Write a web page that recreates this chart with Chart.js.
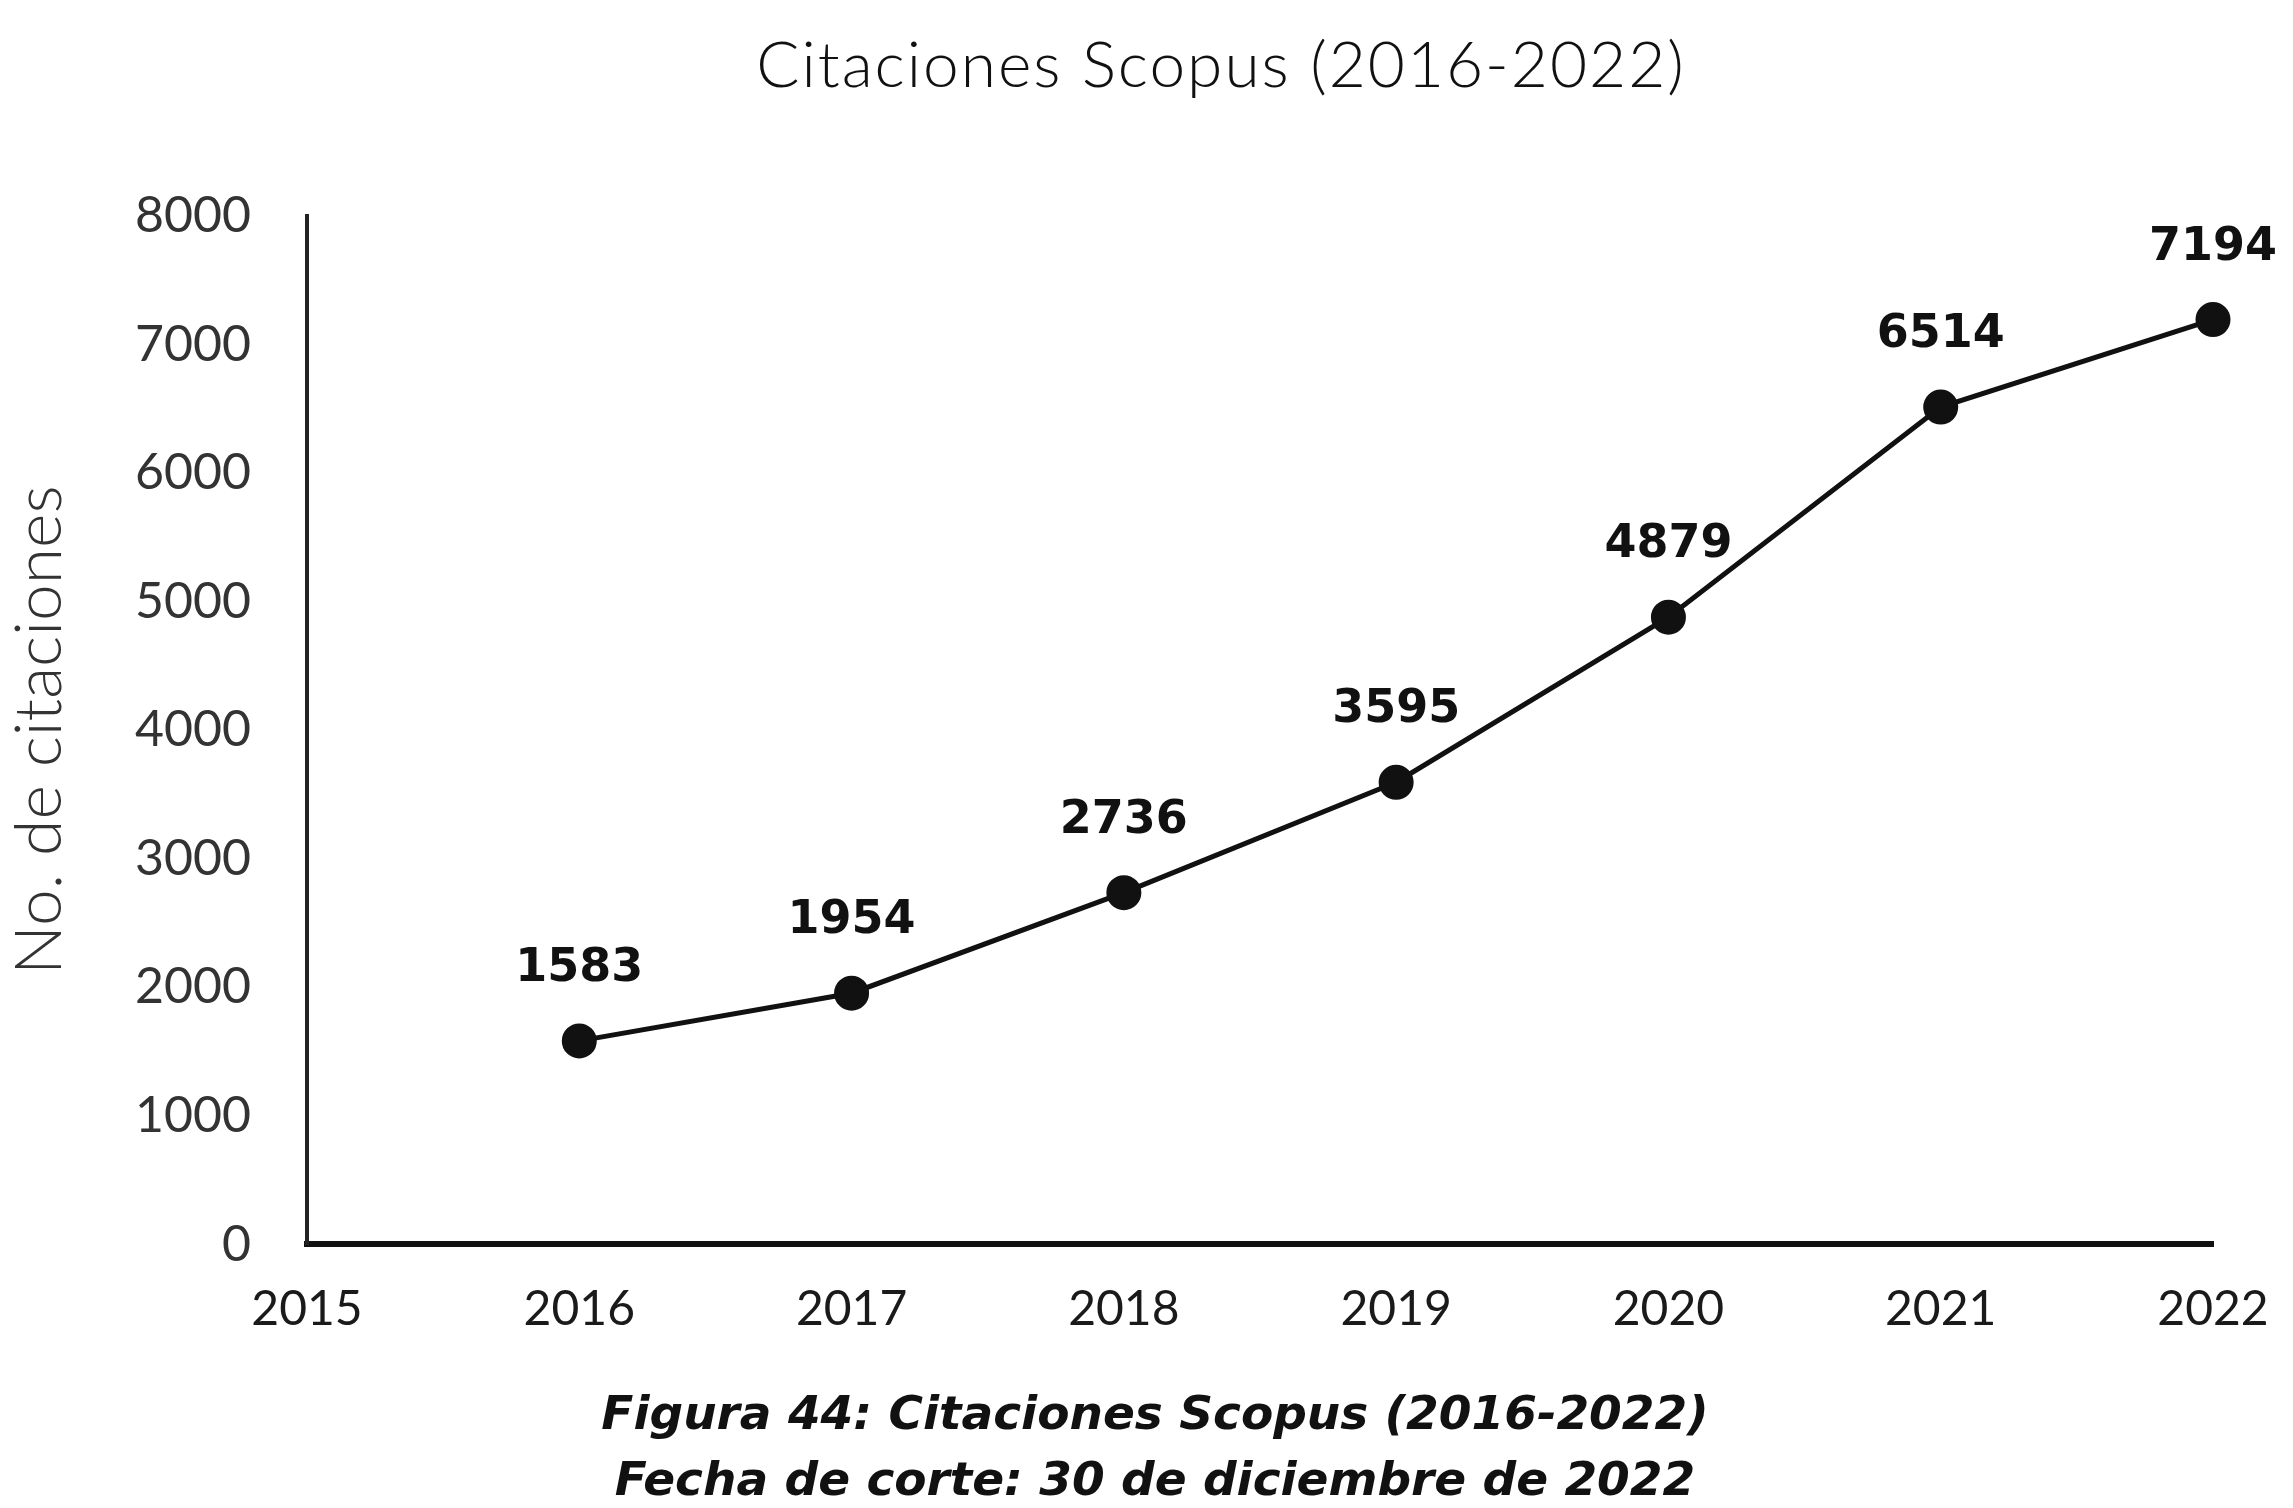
<!DOCTYPE html>
<html>
<head>
<meta charset="utf-8">
<title>Citaciones Scopus (2016-2022)</title>
<script src="https://cdn.jsdelivr.net/npm/chart.js@4"></script>
<style>
  html, body { margin: 0; padding: 0; background: #fff; }
  #wrap { width: 2293px; height: 1508px; }
</style>
</head>
<body>
<div id="wrap"><canvas id="graficoCitas"></canvas></div>
<script>
// datos
const anios = [2016, 2017, 2018, 2019, 2020, 2021, 2022];
const citaciones = [1583, 1954, 2736, 3595, 4879, 6514, 7194];
const ejeX = { min: 2015, max: 2022, paso: 1 };
const ejeY = { min: 0, max: 8000, paso: 1000 };

const tituloTexto = "Citaciones Scopus (2016-2022)";
const tituloEjeY = "No. de citaciones";
const pieFigura = ["Figura 44: Citaciones Scopus (2016-2022)", "Fecha de corte: 30 de diciembre de 2022"];

const fuenteGeo = "Lato, 'DejaVu Sans', sans-serif";
const fuenteVerdana = "'DejaVu Sans', Verdana, sans-serif";

// etiquetas de valor encima de cada punto
const etiquetasValor = {
  id: "etiquetasValor",
  afterDatasetsDraw(chart) {
    const meta = chart.getDatasetMeta(0);
    const ctx = chart.ctx;
    ctx.save();
    ctx.font = "bold 46px " + fuenteVerdana;
    ctx.fillStyle = "#111";
    ctx.textAlign = "center";
    ctx.textBaseline = "middle";
    meta.data.forEach((pt, i) => {
      ctx.fillText(String(citaciones[i]), pt.x, pt.y - 72);
    });
    ctx.restore();
  }
};

// título arriba y pie de figura abajo (no centrados en el lienzo en el original)
const textosFigura = {
  id: "textosFigura",
  afterDraw(chart) {
    const ctx = chart.ctx;
    ctx.save();
    ctx.textAlign = "center";
    ctx.textBaseline = "middle";
    ctx.fillStyle = "#111";
    ctx.font = "300 64px " + fuenteGeo;
    ctx.letterSpacing = "2px";
    ctx.fillText(tituloTexto, 1221, 66);
    ctx.letterSpacing = "0px";
    ctx.font = "italic bold 47px " + fuenteVerdana;
    ctx.fillText(pieFigura[0], 1155, 1417);
    ctx.fillText(pieFigura[1], 1155, 1483);
    ctx.restore();
  }
};

const ctx = document.getElementById("graficoCitas");

new Chart(ctx, {
  type: "line",
  data: {
    datasets: [{
      label: "Citaciones",
      data: anios.map((a, i) => ({ x: a, y: citaciones[i] })),
      borderColor: "#111",
      backgroundColor: "#111",
      borderWidth: 5,
      pointRadius: 15,
      pointHoverRadius: 15,
      tension: 0,
      fill: false,
      clip: false
    }]
  },
  options: {
    responsive: true,
    maintainAspectRatio: false,
    animation: false,
    layout: { padding: { left: 0, right: 80, top: 216, bottom: 134 } },
    plugins: {
      legend: { display: false },
      tooltip: { enabled: false },
      title: { display: false }
    },
    scales: {
      x: {
        type: "linear",
        min: ejeX.min,
        max: ejeX.max,
        grid: { display: false, drawTicks: false },
        border: { display: true, color: "#111", width: 6 },
        ticks: {
          stepSize: ejeX.paso,
          padding: 36,
          color: "#1a1a1a",
          font: { family: fuenteGeo, size: 48 },
          callback: v => String(v)
        },
        afterFit(scale) { scale.paddingRight = 0; }
      },
      y: {
        min: ejeY.min,
        max: ejeY.max,
        grid: { display: false, drawTicks: false },
        border: { display: true, color: "#222", width: 4 },
        ticks: {
          stepSize: ejeY.paso,
          padding: 56,
          color: "#333",
          font: { family: fuenteGeo, size: 50 },
          callback: v => String(v)
        },
        title: {
          display: true,
          text: tituloEjeY,
          color: "#333",
          font: { family: fuenteGeo, size: 66, weight: "300" },
          padding: { top: 0, bottom: 0 }
        },
        afterFit(scale) { scale.width = 307; }
      }
    }
  },
  plugins: [etiquetasValor, textosFigura]
});
</script>
</body>
</html>
